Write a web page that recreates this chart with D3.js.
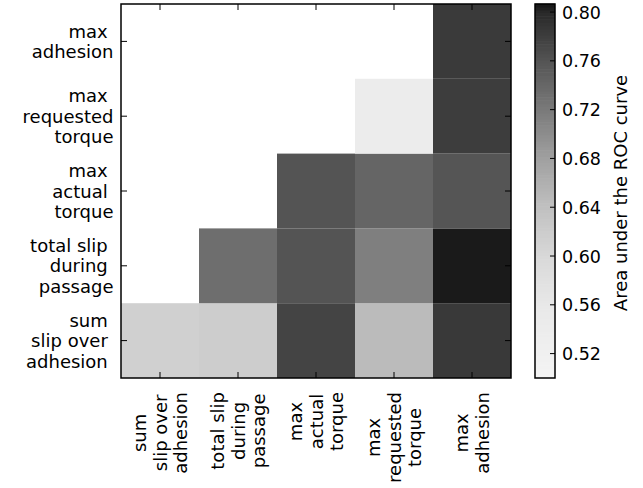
<!DOCTYPE html>
<html><head><meta charset="utf-8">
<script src="https://cdn.jsdelivr.net/npm/d3@7"></script>
<style>
body{margin:0;background:#fff;}
svg text{font-family:"DejaVu Sans",sans-serif;font-size:18px;fill:#000;white-space:pre;}
</style></head><body>
<svg id="chart" width="643" height="488"></svg>
<script>
// Features in column order (left to right); rows use the same order bottom to top
const features = ["sum slip over adhesion", "total slip during passage", "max actual torque", "max requested torque", "max adhesion"];
const rowLabelLines = [["sum ", "slip over ", "adhesion "], ["total slip ", "during ", "passage"], ["max ", "actual ", "torque"], ["max ", "requested", "torque"], ["max ", "adhesion"]];
const colLabelLines = [["sum", "slip over", "adhesion"], ["total slip", "during", "passage"], ["max", "actual", "torque"], ["max", "requested", "torque"], ["max", "adhesion"]];

// Area under the ROC curve for each feature pair (row feature vs column feature)
const aucSumSlip      = [0.613, 0.618, 0.775, 0.646, 0.785];
const aucTotalSlip    = [null, 0.733, 0.760, 0.715, 0.805];
const aucMaxActual    = [null, null, 0.760, 0.742, 0.759];
const aucMaxRequested = [null, null, null, 0.540, 0.781];
const aucMaxAdhesion  = [null, null, null, null, 0.784];
const aucRows = [aucSumSlip, aucTotalSlip, aucMaxActual, aucMaxRequested, aucMaxAdhesion];

const cbTicks = [0.52, 0.56, 0.60, 0.64, 0.68, 0.72, 0.76, 0.80];
const cbDomain = [0.50, 0.8066];

// grey ramp used for the cells and the colour bar
const greyStops = [0.50, 0.52, 0.56, 0.60, 0.64, 0.68, 0.72, 0.76, 0.80, 0.8066];
const greyLevels = [244, 240, 232, 216, 192, 160, 122, 84, 40, 22];
const color = d3.scaleLinear()
  .domain(greyStops)
  .range(greyLevels.map(g => d3.rgb(g, g, g)))
  .interpolate(d3.interpolateRgb)
  .clamp(true);

const svg = d3.select("#chart");
const plot = {left: 121, right: 511, top: 4, bottom: 378};

const x = d3.scaleBand().domain(features).range([plot.left, plot.right]);
const y = d3.scaleBand().domain(features).range([plot.bottom, plot.top]);

// cells
const cells = [];
aucRows.forEach((row, ri) => row.forEach((v, ci) => {
  if (v !== null) cells.push({row: features[ri], col: features[ci], v});
}));
svg.append("g").selectAll("rect").data(cells).join("rect")
  .attr("x", d => x(d.col)).attr("y", d => y(d.row))
  .attr("width", x.bandwidth()).attr("height", y.bandwidth())
  .attr("fill", d => color(d.v));

// inward ticks on all four sides
const tk = 6;
function ticksOnly(g) { g.select(".domain").remove(); g.selectAll("line").attr("stroke", "#000").attr("stroke-width", 1); }
svg.append("g").attr("transform", `translate(0,${plot.bottom})`).call(d3.axisBottom(x).tickSize(-tk).tickFormat("")).call(ticksOnly);
svg.append("g").attr("transform", `translate(0,${plot.top})`).call(d3.axisTop(x).tickSize(-tk).tickFormat("")).call(ticksOnly);
svg.append("g").attr("transform", `translate(${plot.left},0)`).call(d3.axisLeft(y).tickSize(-tk).tickFormat("")).call(ticksOnly);
svg.append("g").attr("transform", `translate(${plot.right},0)`).call(d3.axisRight(y).tickSize(-tk).tickFormat("")).call(ticksOnly);

svg.append("rect")
  .attr("x", plot.left).attr("y", plot.top)
  .attr("width", plot.right - plot.left).attr("height", plot.bottom - plot.top)
  .attr("fill", "none").attr("stroke", "#000").attr("stroke-width", 1.5);

// row labels (right aligned, multi-line)
const lh = 20.5;
const rowG = svg.append("g");
features.forEach((f, i) => {
  const lines = rowLabelLines[i];
  const cy = y(f) + y.bandwidth() / 2;
  lines.forEach((ln, j) => {
    rowG.append("text")
      .attr("x", 113.5)
      .attr("y", cy + (j - (lines.length - 1) / 2) * lh)
      .attr("text-anchor", "end")
      .attr("dominant-baseline", "central")
      .text(ln);
  });
});

// column labels (rotated, lines centred on each other)
const colG = svg.append("g");
features.forEach((f, i) => {
  const lines = colLabelLines[i];
  const cx = x(f) + x.bandwidth() / 2;
  const texts = lines.map((ln, j) => colG.append("text")
    .attr("text-anchor", "middle")
    .attr("dominant-baseline", "central")
    .text(ln));
  const maxLen = d3.max(texts, t => t.node().getComputedTextLength());
  const cyc = 392 + maxLen / 2;
  texts.forEach((t, j) => {
    const tx = cx + (j - (lines.length - 1) / 2) * lh;
    t.attr("transform", `translate(${tx},${cyc}) rotate(-90)`);
  });
});

// colour bar
const cb = {left: 535, right: 555, top: 4, bottom: 378};
const cy = d3.scaleLinear().domain(cbDomain).range([cb.bottom, cb.top]);
const nSteps = 120;
const stepVals = d3.range(nSteps).map(i => cbDomain[0] + (i + 0.5) * (cbDomain[1] - cbDomain[0]) / nSteps);
const stepH = (cb.bottom - cb.top) / nSteps;
svg.append("g").selectAll("rect").data(stepVals).join("rect")
  .attr("x", cb.left).attr("width", cb.right - cb.left)
  .attr("y", d => cy(d) - stepH / 2 - 0.3).attr("height", stepH + 0.6)
  .attr("fill", d => color(d));

const cbAxis = svg.append("g").attr("transform", `translate(${cb.right},0)`)
  .call(d3.axisRight(cy).tickValues(cbTicks).tickSize(0).tickPadding(7).tickFormat(d3.format(".2f")));
cbAxis.select(".domain").remove();
cbAxis.selectAll("text").attr("dy", null).attr("dominant-baseline", "central").style("font-size", "17.5px");
cbAxis.attr("font-size", null).attr("font-family", null);
svg.append("g").selectAll("line").data(cbTicks).join("line")
  .attr("x1", cb.right - 5).attr("x2", cb.right)
  .attr("y1", d => cy(d)).attr("y2", d => cy(d))
  .attr("stroke", "#000").attr("stroke-width", 1);

svg.append("rect")
  .attr("x", cb.left).attr("y", cb.top)
  .attr("width", cb.right - cb.left).attr("height", cb.bottom - cb.top)
  .attr("fill", "none").attr("stroke", "#000").attr("stroke-width", 1.5);

svg.append("text")
  .attr("transform", `translate(620,193) rotate(-90)`)
  .attr("text-anchor", "middle")
  .attr("dominant-baseline", "central")
  .text("Area under the ROC curve");
</script>
</body></html>
